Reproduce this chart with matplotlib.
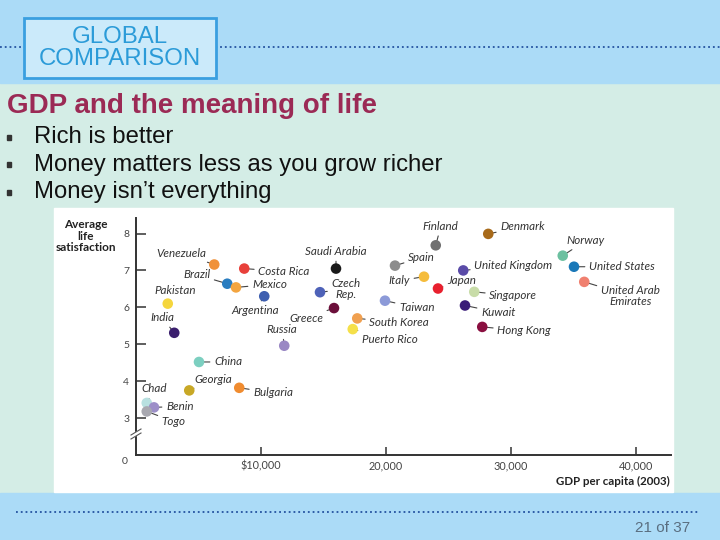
import matplotlib
matplotlib.use('Agg')
from matplotlib import pyplot as plt
from matplotlib.lines import Line2D
from matplotlib.patches import Rectangle

W, H = 720, 540

countries = ['Venezuela', 'Brazil', 'Costa Rica', 'Mexico', 'Argentina', 'Pakistan', 'India',
             'Russia', 'Saudi Arabia', 'Czech\nRep.', 'Greece', 'South Korea', 'Puerto Rico',
             'Taiwan', 'Spain', 'Italy', 'Finland', 'Denmark', 'United Kingdom', 'Japan',
             'Singapore', 'Kuwait', 'Hong Kong', 'Norway', 'United States',
             'United Arab\nEmirates', 'China', 'Georgia', 'Bulgaria', 'Chad', 'Benin', 'Togo']
gdp = [6260, 7300, 8660, 8000, 10260, 2540, 3060,
       11860, 16000, 14720, 15840, 17700, 17340,
       19920, 20720, 23040, 23980, 28180, 26180, 24160,
       27060, 26320, 27700, 34140, 35040,
       35860, 5040, 4260, 8260, 860, 1440, 860]
satisfaction = [7.16, 6.64, 7.05, 6.54, 6.30, 6.10, 5.31,
                4.96, 7.05, 6.41, 5.98, 5.70, 5.41,
                6.18, 7.13, 6.83, 7.68, 7.99, 7.00, 6.51,
                6.42, 6.05, 5.47, 7.40, 7.10,
                6.69, 4.52, 3.75, 3.82, 3.41, 3.29, 3.18]
x_ticks = [10000, 20000, 30000, 40000]
x_tick_labels = ['$10,000', '20,000', '30,000', '40,000']
y_ticks = [3, 4, 5, 6, 7, 8]
bullets = ['Rich is better', 'Money matters less as you grow richer', "Money isn\u2019t everything"]

# styling: dot colours and label offsets (pixels, dy up) + alignment
colors = ['#f0923a', '#2a7dc0', '#e8403a', '#f3a540', '#3e5fb0', '#f5d63d', '#3b1f6e',
          '#9a88c4', '#1a1a1a', '#4e62b8', '#6b0f3a', '#f0a050', '#f5e04a',
          '#8c9ad8', '#8c8c8c', '#f5bc3c', '#707070', '#a86a1a', '#5a4ba8', '#e8202e',
          '#c8dca8', '#3a1c78', '#8a0f40', '#6cc0a0', '#1a78b8',
          '#f08070', '#7ccfc0', '#c8a826', '#f08c30', '#b8e0e0', '#9c8fc8', '#a8a8b0']
offsets = {
    'Venezuela': (-8, 11, 'right'), 'Brazil': (-17, 9, 'right'), 'Costa Rica': (14, -3, 'left'),
    'Mexico': (16, 3, 'left'), 'Argentina': (-9, -14, 'center'), 'Pakistan': (7, 13, 'center'),
    'India': (-12, 15, 'center'), 'Russia': (-2, 16, 'center'), 'Saudi Arabia': (0, 17, 'center'),
    'Czech\nRep.': (26, 3, 'center'), 'Greece': (-11, -10, 'right'), 'South Korea': (12, -4, 'left'),
    'Puerto Rico': (9, -10, 'left'), 'Taiwan': (14, -7, 'left'), 'Spain': (13, 8, 'left'),
    'Italy': (-14, -4, 'right'), 'Finland': (5, 19, 'center'), 'Denmark': (12, 7, 'left'),
    'United Kingdom': (11, 5, 'left'), 'Japan': (9, 8, 'left'), 'Singapore': (15, -4, 'left'),
    'Kuwait': (16, -7, 'left'), 'Hong Kong': (15, -4, 'left'), 'Norway': (23, 15, 'center'),
    'United States': (15, 0, 'left'), 'United Arab\nEmirates': (46, -14, 'center'),
    'China': (15, 0, 'left'), 'Georgia': (5, 11, 'left'), 'Bulgaria': (14, -5, 'left'),
    'Chad': (7, 14, 'center'), 'Benin': (12, 1, 'left'), 'Togo': (15, -10, 'left'),
}

def fx(x):
    return x / W

def fy(y):
    return 1 - y / H

fig = plt.figure(figsize=(7.2, 5.4), dpi=100)
fig.patch.set_facecolor('#d4ede6')

# slide background
band = '#abdbf7'
fig.add_artist(Rectangle((0, fy(83)), 1, 83 / H, transform=fig.transFigure, color=band, zorder=0))
fig.add_artist(Rectangle((0, 0), 1, (H - 493) / H, transform=fig.transFigure, color=band, zorder=0))
fig.add_artist(Line2D([0, 1], [fy(47), fy(47)], transform=fig.transFigure, color='#2352a0',
                      ls=':', lw=1.3, zorder=0.2))
fig.add_artist(Line2D([fx(16), fx(700)], [fy(512), fy(512)], transform=fig.transFigure,
                      color='#2352a0', ls=':', lw=1.3, zorder=0.2))
fig.add_artist(Rectangle((fx(24), fy(78)), 192 / W, 60 / H, transform=fig.transFigure,
                         facecolor='#cbeafa', edgecolor='#3a9fe0', lw=2, zorder=0.3))
fig.text(fx(120), fy(48), 'GLOBAL\nCOMPARISON', ha='center', va='center', fontsize=17.3,
         family='Liberation Sans', color='#2b9bd8', linespacing=0.95, zorder=3)
fig.text(fx(690), fy(528), '21 of 37', ha='right', va='center', fontsize=11,
         family='Liberation Sans', color='#5a6e80')

fig.text(fx(7), fy(106), 'GDP and the meaning of life', ha='left', va='center', fontsize=20,
         family='Liberation Sans', weight='bold', color='#9b2a55')
for i, b in enumerate(bullets):
    yy = 137 + i * 27.5
    fig.add_artist(Rectangle((fx(7), fy(yy + 3)), 4 / W, 5 / H, transform=fig.transFigure,
                             color='#333333', zorder=0.3))
    fig.text(fx(34), fy(yy), b, ha='left', va='center', fontsize=17.2,
             family='Liberation Sans', color='#111111')

# chart panel
fig.add_artist(Rectangle((fx(54), fy(492)), (673 - 54) / W, (492 - 208) / H,
                         transform=fig.transFigure, color='white', zorder=0.5))

ax = fig.add_axes([fx(136), fy(455), (671 - 136) / W, (455 - 218) / H])
ax.set_zorder(2)
ax.set_facecolor('none')
ax.scatter(gdp, satisfaction, s=58, c=colors, edgecolors='none', zorder=4, clip_on=False)
for name, x, y in zip(countries, gdp, satisfaction):
    dx, dy, ha = offsets[name]
    ax.annotate(name, (x, y), xytext=(dx, dy), textcoords='offset pixels', ha=ha, va='center',
                fontsize=8.4, style='italic', family=['Lato', 'DejaVu Sans'], color='#333333',
                linespacing=1.05, zorder=3,
                arrowprops=dict(arrowstyle='-', color='#444444', lw=0.8, shrinkA=1, shrinkB=0))

ax.set_xlim(0, 42800)
ax.set_ylim(2, 8.42)
ax.set_xticks(x_ticks)
ax.set_xticklabels(x_tick_labels)
ax.set_yticks(y_ticks)
for s in ['top', 'right']:
    ax.spines[s].set_visible(False)
for s in ['left', 'bottom']:
    ax.spines[s].set_color('#333333')
    ax.spines[s].set_linewidth(1.4)
ax.tick_params(axis='y', direction='in', length=7, width=1.1, pad=5, labelsize=7.5,
               colors='#333333', labelcolor='#444444')
ax.tick_params(axis='x', direction='in', length=6, width=1.1, pad=4, labelsize=7.8,
               colors='#333333', labelcolor='#444444')
for lab in ax.get_xticklabels() + ax.get_yticklabels():
    lab.set_family(['Lato', 'DejaVu Sans'])
ax.annotate('0', (0, 2), xytext=(-8, -6), textcoords='offset pixels', ha='right', va='center',
            fontsize=7.5, color='#444444', family=['Lato', 'DejaVu Sans'], annotation_clip=False)

# axis break
fig.add_artist(Line2D([fx(131), fx(141)], [fy(437), fy(431)], transform=fig.transFigure,
                      color='white', lw=3, zorder=5))
for off in (0, 4):
    fig.add_artist(Line2D([fx(131), fx(141)], [fy(435 + off), fy(429 + off)],
                          transform=fig.transFigure, color='#555555', lw=0.8, zorder=6))

fig.text(fx(86), fy(236), 'Average\nlife\nsatisfaction', ha='center', va='center', fontsize=8.5,
         weight='bold', family=['Lato', 'DejaVu Sans'], color='#222222', linespacing=1.05)
fig.text(fx(670), fy(481), 'GDP per capita (2003)', ha='right', va='center', fontsize=8.3,
         weight='bold', family=['Lato', 'DejaVu Sans'], color='#222222')

fig.savefig('out.png', dpi=100, facecolor=fig.get_facecolor())
